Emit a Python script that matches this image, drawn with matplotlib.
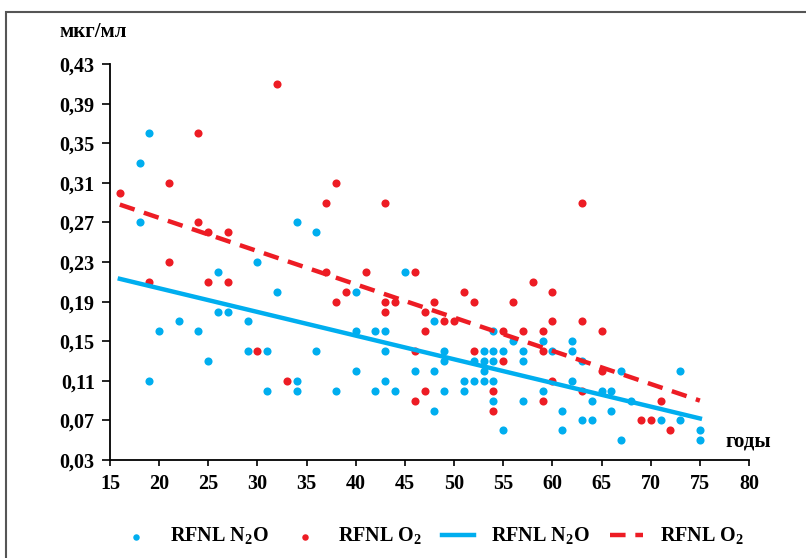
import numpy as np
import matplotlib.pyplot as plt
from matplotlib.patches import Rectangle
from matplotlib.ticker import FuncFormatter

plt.rcParams['font.family'] = ['Liberation Serif', 'DejaVu Serif']
plt.rcParams['font.weight'] = 'bold'
plt.rcParams['mathtext.fontset'] = 'custom'
plt.rcParams['mathtext.rm'] = 'Liberation Serif:bold'
plt.rcParams['mathtext.bf'] = 'Liberation Serif:bold'

# age (years) and concentration (mcg/ml), N2O group
n2o_age = [18, 19, 18, 19, 20, 22, 24, 25, 26, 26, 27, 29, 29, 30, 31, 31, 32, 34, 34, 34,
           36, 36, 38, 40, 40, 40, 42, 42, 43, 43, 43, 44, 45, 46, 48, 48, 48, 49, 49, 49,
           51, 51, 52, 52, 53, 53, 53, 53, 54, 54, 54, 54, 54, 55, 55, 56, 57, 57, 57, 59,
           59, 60, 61, 61, 62, 62, 62, 63, 63, 64, 64, 65, 66, 66, 67, 67, 68, 71, 73, 73,
           75, 75]
n2o_val = [0.33, 0.36, 0.27, 0.11, 0.16, 0.17, 0.16, 0.13, 0.22, 0.18, 0.18, 0.17, 0.14, 0.23,
           0.14, 0.10, 0.20, 0.27, 0.11, 0.10, 0.26, 0.14, 0.10, 0.20, 0.16, 0.12, 0.16, 0.10,
           0.16, 0.14, 0.11, 0.10, 0.22, 0.12, 0.17, 0.12, 0.08, 0.14, 0.13, 0.10, 0.11, 0.10,
           0.11, 0.13, 0.14, 0.13, 0.12, 0.11, 0.16, 0.14, 0.13, 0.11, 0.09, 0.14, 0.06, 0.15,
           0.14, 0.13, 0.09, 0.15, 0.10, 0.14, 0.08, 0.06, 0.15, 0.14, 0.11, 0.13, 0.07, 0.09,
           0.07, 0.10, 0.10, 0.08, 0.12, 0.05, 0.09, 0.07, 0.12, 0.07, 0.06, 0.05]

# O2 group
o2_age = [16, 19, 21, 21, 24, 24, 25, 25, 27, 27, 30, 32, 33, 37, 37, 38, 38, 39, 41, 43,
          43, 43, 44, 46, 46, 46, 47, 47, 47, 48, 49, 50, 51, 52, 52, 54, 54, 55, 55, 56,
          57, 58, 59, 59, 59, 60, 60, 60, 63, 63, 63, 65, 65, 69, 70, 71, 72]
o2_val = [0.30, 0.21, 0.31, 0.23, 0.36, 0.27, 0.26, 0.21, 0.26, 0.21, 0.14, 0.41, 0.11, 0.29,
          0.22, 0.31, 0.19, 0.20, 0.22, 0.29, 0.19, 0.18, 0.19, 0.22, 0.14, 0.09, 0.18, 0.16,
          0.10, 0.19, 0.17, 0.17, 0.20, 0.19, 0.14, 0.10, 0.08, 0.16, 0.13, 0.19, 0.16, 0.21,
          0.16, 0.14, 0.09, 0.20, 0.17, 0.11, 0.29, 0.17, 0.10, 0.16, 0.12, 0.07, 0.07, 0.09,
          0.06]

# trend lines (end points)
trend_age = [16, 75]
trend_n2o = [0.213, 0.072]
trend_o2 = [0.288, 0.090]

blue = '#00AEEF'
red = '#ED1C24'

fig = plt.figure(figsize=(8.06, 5.58), dpi=100)
ax = fig.add_axes([0.1365, 0.1756, 0.7928, 0.7097])

ax.scatter(n2o_age, n2o_val, s=34, color=blue, linewidths=0, label='RFNL N$_2$O', zorder=3)
ax.scatter(o2_age, o2_val, s=34, color=red, linewidths=0, label='RFNL O$_2$', zorder=3)
ax.plot(trend_age, trend_n2o, color=blue, lw=3.2, label='RFNL N$_2$O', zorder=4)
ax.plot(trend_age, trend_o2, color=red, lw=3.2, dashes=(3.5, 2.2), label='RFNL O$_2$', zorder=4)

ax.set_xlim(15, 80)
ax.set_ylim(0.03, 0.43)
ax.set_xticks(np.arange(15, 81, 5))
ax.set_yticks(np.arange(0.03, 0.44, 0.04))
ax.yaxis.set_major_formatter(FuncFormatter(lambda v, p: f'{v:.2f}'.replace('.', ',')))
ax.tick_params(axis='both', direction='out', width=1.2, labelsize=14.5)
ax.tick_params(axis='x', length=4, pad=6)
ax.tick_params(axis='y', length=6, pad=5)
for s in ['top', 'right']:
    ax.spines[s].set_visible(False)
for s in ['left', 'bottom']:
    ax.spines[s].set_linewidth(1.3)

fig.text(59 / 806, 1 - 32 / 558, 'мкг/мл', fontsize=15, fontweight='bold', va='center')
fig.text(725 / 806, 1 - 442 / 558, 'годы', fontsize=15, fontweight='bold', va='center')

ax.legend(loc='center', bbox_to_anchor=(0.536, 0.038), bbox_transform=fig.transFigure,
          ncol=4, frameon=False, fontsize=14.5, markerscale=0.8, handlelength=1.6,
          columnspacing=1.0, handletextpad=0.85)

fig.patches.append(Rectangle((6 / 806, -0.05), 1.2, 1.05 - 12 / 558, transform=fig.transFigure,
                             fill=False, edgecolor='#555555', lw=1.5))

fig.savefig('out.png', dpi=100)
